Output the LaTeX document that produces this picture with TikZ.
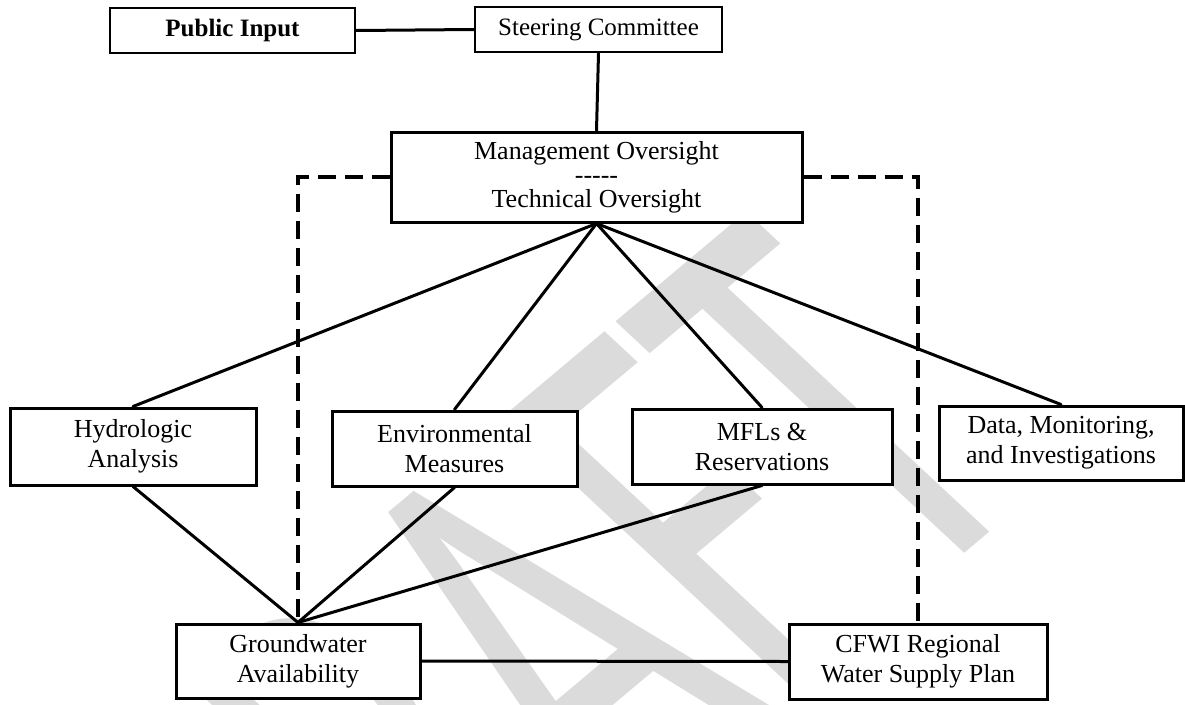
\documentclass[tikz,border=0pt]{standalone}
\usepackage{fontspec}
\setmainfont{Liberation Serif}
\newfontfamily\wmfont{Carlito}
\begin{document}
\begin{tikzpicture}[x=1pt,y=-1pt,
  box/.style={draw=black, line width=3pt, fill=white, align=center, inner sep=0pt,
    font=\fontsize{26}{30}\selectfont},
  conn/.style={line width=3pt, line cap=round},
  dashconn/.style={line width=4pt, dash pattern=on 18pt off 9pt},
  watermark/.style={text=black!14, inner sep=0pt, font=\wmfont\fontsize{670}{670}\selectfont}]
\useasboundingbox (0,0) rectangle (1185,704);
\begin{scope}
\clip (0,0) rectangle (1185,704);
\node[watermark, anchor=base east, yscale=0.885, rotate=43.5, xscale=0.58] (wm) at (1046,485) {DRAFT};
\end{scope}
% top row
\node[box, line width=2.5pt, minimum width=245pt, minimum height=45pt,
  font=\bfseries\fontsize{25}{28}\selectfont] (pi) at (232.5,30.5) {Public Input};
\node[box, line width=2.5pt, minimum width=247pt, minimum height=45pt,
  font=\fontsize{25}{28}\selectfont] (sc) at (598.5,29.5) {Steering Committee};
\node[box, minimum width=411pt, minimum height=90pt,
  font=\fontsize{26}{24}\selectfont] (mg) at (596.5,177)
  {Management Oversight\\{-}{-}{-}{-}{-}\\Technical Oversight};
% middle row
\node[box, minimum width=246pt, minimum height=77pt] (hy) at (133,446.5) {Hydrologic\\Analysis};
\node[box, minimum width=245pt, minimum height=75pt] (en) at (454.5,448.5) {Environmental\\Measures};
\node[box, minimum width=260pt, minimum height=75pt] (mf) at (762,446.5) {MFLs \&\\Reservations};
\node[box, minimum width=244pt, minimum height=74pt] (da) at (1061,443) {Data, Monitoring,\\and Investigations};
% bottom row
\node[box, minimum width=244pt, minimum height=74pt] (gw) at (298,661) {Groundwater\\Availability};
\node[box, minimum width=258pt, minimum height=75pt] (cf) at (918,661.5) {CFWI Regional\\Water Supply Plan};
% connectors
\draw[conn] (pi.east) -- (sc.west);
\draw[conn] (sc.south) -- (mg.north);
\foreach \t in {hy,en,mf,da} \draw[conn] (mg.south) -- (\t.north);
\foreach \t in {hy,en,mf} \draw[conn] (\t.south) -- (gw.north);
\draw[conn] (gw.east) -- (cf.west);
\draw[dashconn] (mg.west) -| (gw.north);
\draw[dashconn] (mg.east) -| (cf.north);
\end{tikzpicture}
\end{document}
